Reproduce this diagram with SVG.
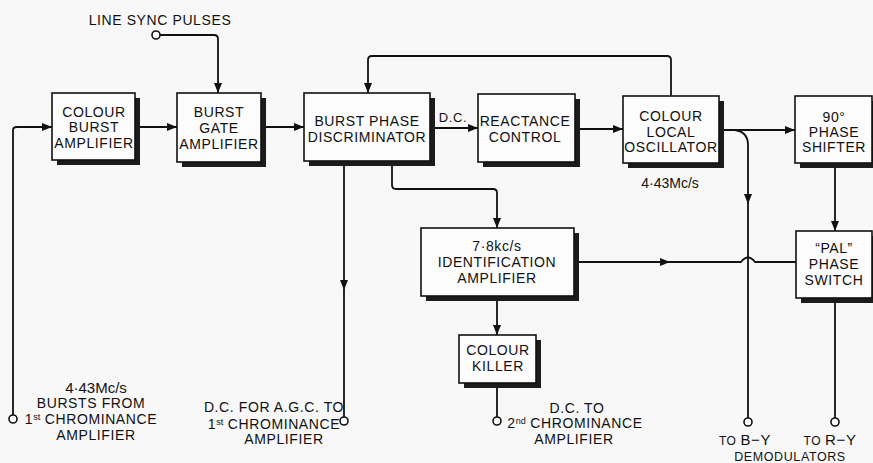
<svg xmlns="http://www.w3.org/2000/svg" width="873" height="463" viewBox="0 0 873 463">
<style>
.bg{fill:#f8f8f8}
.sh{fill:#1c1c1c}
.bx{fill:#fcfcfc;stroke:#111;stroke-width:1.6}
.ln{fill:none;stroke:#111;stroke-width:1.8}
.ln.m{marker-end:url(#arr)}
.term{fill:#fcfcfc;stroke:#111;stroke-width:1.6}
text{font-family:"Liberation Sans",Arial,sans-serif;font-size:14px;fill:#111;text-anchor:middle;letter-spacing:0.6px}
.lc{letter-spacing:0}
.sup{font-size:9px;letter-spacing:0}
</style>
<defs>
<marker id="arr" viewBox="0 0 10 8" refX="10" refY="4" markerWidth="11" markerHeight="8" markerUnits="userSpaceOnUse" orient="auto">
<path d="M0,0 L10,4 L0,8 z" fill="#111"/>
</marker>
</defs>
<rect class="bg" x="0" y="0" width="873" height="463"/>

<g id="connectors">
<path class="ln m" d="M160,35 H214 Q218,35 218,39 V93"/>
<path class="ln m" d="M13,415 V130 Q13,127 17,127 H52"/>
<path class="ln m" d="M135,127 H177"/>
<path class="ln m" d="M261,127 H304"/>
<path class="ln m" d="M430,128 H478"/>
<path class="ln m" d="M575,129 H623"/>
<path class="ln m" d="M671,96 V60 Q671,56 667,56 H372 Q368,56 368,60 V93"/>
<path class="ln m" d="M719,130 H795"/>
<path class="ln m" d="M735,130 Q748,132 748,145 V204"/>
<path class="ln" d="M748,204 V418"/>
<path class="ln m" d="M835,163 V231"/>
<path class="ln" d="M835,298 V418"/>
<path class="ln m" d="M574,262 H670"/>
<path class="ln" d="M670,262 H741 Q748,253 755,262 H796"/>
<path class="ln m" d="M392,161 V185 Q392,189 396,189 H493 Q497,189 497,193 V228"/>
<path class="ln m" d="M344,161 V290"/>
<path class="ln" d="M344,290 V417"/>
<path class="ln m" d="M497,296 V335"/>
<path class="ln" d="M497,383 V417"/>
<circle class="term" cx="156" cy="35" r="4"/>
<circle class="term" cx="13" cy="419" r="4"/>
<circle class="term" cx="344" cy="421" r="4"/>
<circle class="term" cx="497" cy="421" r="4"/>
<circle class="term" cx="748" cy="422" r="4"/>
<circle class="term" cx="835" cy="422" r="4"/>
</g>

<g id="colour-burst-amplifier">
<rect class="sh" x="57" y="98" width="83" height="67"/>
<rect class="bx" x="52" y="93" width="83" height="67"/>
<text x="94" y="117">COLOUR</text><text x="94" y="132">BURST</text><text x="94" y="148">AMPLIFIER</text>
</g>
<g id="burst-gate-amplifier">
<rect class="sh" x="182" y="98" width="84" height="69"/>
<rect class="bx" x="177" y="93" width="84" height="69"/>
<text x="219" y="117">BURST</text><text x="219" y="133">GATE</text><text x="219" y="149">AMPLIFIER</text>
</g>
<g id="burst-phase-discriminator">
<rect class="sh" x="309" y="98" width="126" height="68"/>
<rect class="bx" x="304" y="93" width="126" height="68"/>
<text x="367" y="126">BURST PHASE</text><text x="367" y="142">DISCRIMINATOR</text>
</g>
<g id="reactance-control">
<rect class="sh" x="483" y="99" width="97" height="68"/>
<rect class="bx" x="478" y="94" width="97" height="68"/>
<text x="525" y="126">REACTANCE</text><text x="525" y="142">CONTROL</text>
</g>
<g id="colour-local-oscillator">
<rect class="sh" x="628" y="101" width="96" height="67"/>
<rect class="bx" x="623" y="96" width="96" height="67"/>
<text x="671" y="121">COLOUR</text><text x="671" y="137">LOCAL</text><text x="671" y="152">OSCILLATOR</text>
<text class="lc" x="670" y="188">4·43Mc/s</text>
</g>
<g id="phase-shifter-90">
<rect class="sh" x="800" y="101" width="77" height="67"/>
<rect class="bx" x="795" y="96" width="77" height="67"/>
<text x="834" y="122">90°</text><text x="834" y="137">PHASE</text><text x="834" y="152">SHIFTER</text>
</g>
<g id="pal-phase-switch">
<rect class="sh" x="801" y="236" width="76" height="67"/>
<rect class="bx" x="796" y="231" width="76" height="67"/>
<text x="834" y="253">“PAL”</text><text x="834" y="269">PHASE</text><text x="834" y="285">SWITCH</text>
</g>
<g id="identification-amplifier">
<rect class="sh" x="426" y="233" width="153" height="68"/>
<rect class="bx" x="421" y="228" width="153" height="68"/>
<text x="497" y="251">7·8kc/s</text><text x="497" y="267">IDENTIFICATION</text><text x="497" y="283">AMPLIFIER</text>
</g>
<g id="colour-killer">
<rect class="sh" x="464" y="340" width="77" height="48"/>
<rect class="bx" x="459" y="335" width="77" height="48"/>
<text x="498" y="355">COLOUR</text><text x="498" y="371">KILLER</text>
</g>

<g id="labels">
<text x="160" y="25">LINE SYNC PULSES</text>
<text x="453" y="122" style="font-size:13px">D.C.</text>
<text class="lc" x="96" y="393" style="font-size:15px">4·43Mc/s</text>
<text x="91" y="408">BURSTS FROM</text>
<text x="91" y="424">1<tspan class="sup" dy="-4">st</tspan><tspan dy="4"> CHROMINANCE</tspan></text>
<text x="96" y="440">AMPLIFIER</text>
<text x="274" y="412">D.C. FOR A.G.C. TO</text>
<text x="274" y="429">1<tspan class="sup" dy="-4">st</tspan><tspan dy="4"> CHROMINANCE</tspan></text>
<text x="284" y="444">AMPLIFIER</text>
<text x="577" y="413">D.C. TO</text>
<text x="575" y="428">2<tspan class="sup" dy="-4">nd</tspan><tspan dy="4"> CHROMINANCE</tspan></text>
<text x="574" y="444">AMPLIFIER</text>
<text x="745" y="445"><tspan style="font-size:12px">TO </tspan><tspan style="font-size:15px">B−Y</tspan></text>
<text x="830" y="445"><tspan style="font-size:12px">TO </tspan><tspan style="font-size:15px">R−Y</tspan></text>
<text x="790" y="461" style="font-size:12.5px">DEMODULATORS</text>
</g>
</svg>
